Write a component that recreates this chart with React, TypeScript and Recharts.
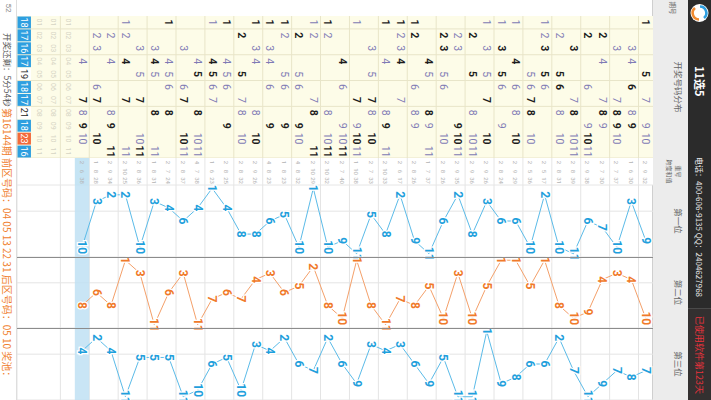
import React from 'react'
import {
  ComposedChart,
  LineChart,
  Line,
  Scatter,
  XAxis,
  YAxis,
  CartesianGrid,
  ReferenceArea,
  LabelList,
} from 'recharts'

// periods 12..51 (rows of the original portrait screen)
const periods = [12, 13, 14, 15, 16, 17, 18, 19, 20, 21, 22, 23, 24, 25, 26, 27, 28, 29, 30, 31, 32, 33, 34, 35, 36, 37, 38, 39, 40, 41, 42, 43, 44, 45, 46, 47, 48, 49, 50, 51]

// drawn numbers per period
const draws = [
  [1, 5, 7, 9, 10], [3, 4, 6, 8, 9], [3, 7, 8, 9, 10], [2, 4, 7, 8, 9], [2, 6, 9, 10, 11],
  [3, 7, 8, 10, 11], [2, 5, 6, 8, 10], [1, 2, 3, 5, 6], [5, 6, 7, 8, 10], [1, 4, 6, 8, 10],
  [1, 3, 5, 6, 9], [1, 3, 5, 7, 10], [2, 5, 8, 10, 11], [2, 3, 9, 10, 11], [2, 3, 5, 6, 10],
  [4, 5, 8, 9, 11], [1, 2, 6, 8, 9], [1, 2, 3, 4, 7], [1, 4, 8, 9, 11], [3, 5, 7, 8, 10],
  [1, 7, 9, 10, 11], [4, 6, 9, 10, 11], [1, 2, 8, 10, 11], [1, 2, 7, 8, 11], [2, 5, 6, 9, 10],
  [1, 2, 5, 6, 9], [1, 3, 4, 6, 9], [1, 3, 4, 8, 10], [2, 5, 7, 8, 10], [1, 4, 5, 6, 9],
  [1, 4, 5, 6, 7], [4, 5, 8, 10, 11], [3, 6, 7, 10, 11], [1, 4, 5, 6, 8], [3, 4, 5, 8, 11],
  [3, 5, 7, 10, 11], [1, 2, 4, 7, 11], [2, 4, 8, 9, 11], [2, 3, 6, 7, 10], [4, 7, 8, 9, 10],
]

// 第一位 / 第二位 / 第三位
const firstPos = [9, 3, 10, 7, 6, 11, 10, 2, 10, 6, 6, 3, 8, 2, 6, 11, 9, 2, 8, 5, 11, 9, 10, 1, 10, 5, 6, 8, 8, 4, 1, 4, 6, 4, 3, 10, 2, 2, 3, 10]
const secondPos = [10, 4, 3, 4, 9, 10, 8, 1, 5, 1, 1, 5, 10, 3, 10, 5, 8, 7, 11, 8, 1, 10, 8, 2, 5, 6, 3, 4, 7, 6, 7, 11, 3, 6, 11, 3, 1, 8, 6, 8]
const thirdPos = [7, 8, 7, 9, 11, 7, 2, 6, 6, 8, 9, 1, 11, 11, 5, 9, 6, 3, 4, 3, 9, 6, 2, 7, 6, 2, 4, 3, 10, 5, 6, 10, 11, 5, 5, 5, 11, 4, 2, 4]

// small stat columns
const repeatCount = [2, 1, 2, 2, 2, 2, 2, 2, 2, 2, 2, 2, 2, 2, 2, 1, 2, 2, 2, 2, 1, 2, 2, 2, 4, 1, 4, 2, 2, 2, 1, 4, 2, 2, 1, 2, 2, 2, 1, 2]
const spanValues = [9, 6, 7, 7, 9, 8, 8, 5, 5, 9, 8, 9, 9, 9, 8, 7, 8, 6, 10, 7, 10, 7, 10, 10, 8, 8, 8, 9, 8, 8, 6, 7, 8, 7, 8, 8, 10, 9, 8, 6]
const sumValues = [32, 30, 37, 30, 38, 39, 31, 17, 36, 29, 24, 26, 36, 35, 26, 37, 26, 17, 33, 33, 38, 40, 32, 29, 32, 23, 23, 26, 32, 25, 23, 38, 37, 24, 31, 36, 25, 34, 28, 38]

const numberLabels = ['01', '02', '03', '04', '05', '06', '07', '08', '09', '10', '11']
const spareRows = [52, 53, 54]
const hitCounts = [18, 17, 16, 17, 19, 18, 17, 21, 18, 23, 16]
const hitMarks = ['b', 'b', 'b', 'b', 'w', 'b', 'b', 'w', 'b', 'r', 'b']

const FONT = 'Roboto, "Noto Sans CJK SC", sans-serif'
const CJK = '"Noto Sans CJK SC", "Noto Sans", sans-serif'

const BODY_H = 636
const ROW_H = BODY_H / 44
const CELL_W = 142 / 11
const ROW_EDGES = Array.from({ length: 45 }, (_, i) => 11.5 + i)
const ROW_TICKS = Array.from({ length: 44 }, (_, i) => 12 + i)
const COL_EDGES = Array.from({ length: 12 }, (_, i) => 0.5 + i)
const COL_TICKS = Array.from({ length: 11 }, (_, i) => 1 + i)
const STAT_EDGES = [0.5, 1.5, 2.5, 3.5]

const lineRows = periods.map((p, i) => ({ p, first: firstPos[i], second: secondPos[i], third: thirdPos[i] }))

const PeriodTick = (props: any) => {
  const { y, payload } = props
  const v = payload.value
  return (
    <g>
      {v === 51 && <rect x={0} y={y - ROW_H / 2} width={16} height={ROW_H} fill="#bfe1f3" />}
      <line x1={0} x2={16} y1={y + ROW_H / 2} y2={y + ROW_H / 2} stroke="#e6e6e6" />
      {v === 55 ? (
        <text x={8} y={y} textAnchor="middle" fontSize={5.5} fill="#777" fontFamily={CJK}>
          <tspan x={8} dy={-1}>出现</tspan>
          <tspan x={8} dy={6}>次数</tspan>
        </text>
      ) : (
        <text x={8} y={y} textAnchor="middle" dominantBaseline="central" fontSize={v > 51 ? 6 : 8} fill="#8a8a8a" fontFamily={v > 51 ? CJK : FONT}>
          {v > 51 ? '预选' : v}
        </text>
      )}
    </g>
  )
}

const NumCell = (props: any) => {
  const { cx, cy, payload } = props
  return (
    <text x={cx} y={cy} textAnchor="middle" dominantBaseline="central" fontSize={10.5}
      fontWeight={payload.last ? 700 : 400} fill={payload.last ? '#1d1d1d' : '#7f7bb5'} fontFamily={FONT}>
      {payload.n}
    </text>
  )
}

const SpareCell = (props: any) => (
  <text x={props.cx} y={props.cy} textAnchor="middle" dominantBaseline="central" fontSize={7} fill="#d6d4c4" fontFamily={FONT}>
    {props.payload.t}
  </text>
)

const CountCell = (props: any) => {
  const { cx, cy, payload } = props
  const bg = payload.mark === 'r' ? '#f26a3c' : payload.mark === 'w' ? '#ffffff' : '#2e9fe0'
  const fg = payload.mark === 'w' ? '#222' : '#fff'
  return (
    <g>
      <rect x={cx - CELL_W / 2 + 0.5} y={cy - ROW_H / 2 + 0.5} width={CELL_W - 1} height={ROW_H - 1} fill={bg} />
      <text x={cx} y={cy} textAnchor="middle" dominantBaseline="central" fontSize={9} fill={fg} fontFamily={FONT}>{payload.c}</text>
    </g>
  )
}

const StatCell = (props: any) => (
  <text x={props.cx} y={props.cy} textAnchor="middle" dominantBaseline="central" fontSize={6} fill="#b4b4b4" fontFamily={FONT}>
    {props.payload.t}
  </text>
)

const BandLabel = (props: any) => {
  const x = props.x ?? props.viewBox?.x
  const y = props.y ?? props.viewBox?.y
  return (
    <text x={x} y={y} textAnchor="middle" dominantBaseline="central" fontSize={12} fontWeight={700}
      fill={props.color} stroke="#ffffff" strokeWidth={2.5} paintOrder="stroke" fontFamily={FONT}>
      {props.value}
    </text>
  )
}

function DrawTable() {
  const cells = periods.flatMap((p, i) =>
    draws[i].map((n) => ({ p, n, last: n !== firstPos[i] && n !== secondPos[i] && n !== thirdPos[i] })))
  const spare = spareRows.flatMap((p) => numberLabels.map((t, j) => ({ p, n: j + 1, t })))
  const counts = hitCounts.map((c, j) => ({ p: 55, n: j + 1, c, mark: hitMarks[j] }))
  return (
    <ComposedChart layout="vertical" width={158} height={650} margin={{ top: 0, right: 0, bottom: 0, left: 0 }}>
      <CartesianGrid xAxisId="g" yAxisId="g" syncWithTicks fill="#fdfce8" fillOpacity={1} stroke="#e8e5c8" />
      <XAxis xAxisId="g" type="number" dataKey="n" domain={[0.5, 11.5]} ticks={COL_EDGES} hide />
      <XAxis xAxisId="lab" type="number" dataKey="n" orientation="top" height={14} domain={[0.5, 11.5]}
        ticks={COL_TICKS} interval={0} tickFormatter={(v) => numberLabels[v - 1]}
        tick={{ fontSize: 7, fill: '#8c8c8c', fontFamily: FONT }} tickLine={false} axisLine={false} tickSize={0} tickMargin={9} />
      <YAxis yAxisId="g" type="number" dataKey="p" domain={[11.5, 55.5]} ticks={ROW_EDGES} hide />
      <YAxis yAxisId="lab" type="number" dataKey="p" width={16} domain={[11.5, 55.5]} ticks={ROW_TICKS}
        interval={0} tick={PeriodTick} tickLine={false} axisLine={false} />
      <Scatter xAxisId="g" yAxisId="g" data={cells} shape={NumCell} isAnimationActive={false} />
      <Scatter xAxisId="g" yAxisId="g" data={spare} shape={SpareCell} isAnimationActive={false} />
      <Scatter xAxisId="g" yAxisId="g" data={counts} shape={CountCell} isAnimationActive={false} />
    </ComposedChart>
  )
}

function StatColumns() {
  const cells = periods.flatMap((p, i) => [
    { p, k: 1, t: repeatCount[i] },
    { p, k: 2, t: spanValues[i] },
    { p, k: 3, t: sumValues[i] },
  ])
  return (
    <ComposedChart layout="vertical" width={27} height={650} margin={{ top: 14, right: 0, bottom: 0, left: 0 }}>
      <CartesianGrid xAxisId="g" yAxisId="g" syncWithTicks fill="#ffffff" fillOpacity={1} stroke="#e6e6e6" />
      <XAxis xAxisId="g" type="number" dataKey="k" domain={[0.5, 3.5]} ticks={STAT_EDGES} hide />
      <YAxis yAxisId="g" type="number" dataKey="p" domain={[11.5, 55.5]} ticks={ROW_EDGES} hide />
      <ReferenceArea xAxisId="g" yAxisId="g" y1={50.5} y2={51.5} fill="#bfe1f3" fillOpacity={0.9} />
      <Scatter xAxisId="g" yAxisId="g" data={cells} shape={StatCell} isAnimationActive={false} />
    </ComposedChart>
  )
}

function PositionBand({ width, dataKey, line, text }: { width: number; dataKey: string; line: string; text: string }) {
  return (
    <LineChart layout="vertical" width={width} height={650} data={lineRows} margin={{ top: 0, right: 0, bottom: 0, left: 0 }}>
      <CartesianGrid xAxisId="g" yAxisId="g" syncWithTicks fill="none" stroke="#e4e4e4" />
      <XAxis xAxisId="g" type="number" domain={[0.5, 11.5]} ticks={COL_EDGES} hide />
      <XAxis xAxisId="lab" type="number" orientation="top" height={14} domain={[0.5, 11.5]} ticks={COL_TICKS}
        interval={0} tickFormatter={(v) => numberLabels[v - 1]} tick={{ fontSize: 4.5, fill: '#a0a0a0', fontFamily: FONT }}
        tickLine={false} axisLine={false} tickSize={0} tickMargin={9} />
      <YAxis yAxisId="g" type="number" dataKey="p" domain={[11.5, 55.5]} ticks={ROW_EDGES} hide />
      <ReferenceArea xAxisId="g" yAxisId="g" y1={50.5} y2={51.5} fill="#bfe1f3" fillOpacity={0.85} />
      <Line xAxisId="g" yAxisId="g" dataKey={dataKey} stroke={line} strokeWidth={1} dot={false} isAnimationActive={false}>
        <LabelList dataKey={dataKey} content={(p: any) => <BandLabel {...p} color={text} />} />
      </Line>
    </LineChart>
  )
}

const abs = (left: number, top: number, width: number, height: number, extra: React.CSSProperties = {}): React.CSSProperties => ({
  position: 'absolute', left, top, width, height, ...extra,
})

function TitleBar() {
  return (
    <div style={abs(0, 0, 400, 23, { background: '#2b2b2b', color: '#fff', fontFamily: CJK })}>
      <svg width={24} height={23} style={{ position: 'absolute', left: 1, top: 0 }}>
        <circle cx={12} cy={11.5} r={9} fill="#ffffff" />
        <path d="M5.5 11 A6.5 6.5 0 0 1 17 7" stroke="#2e9fe0" strokeWidth={2.6} fill="none" />
        <path d="M18.5 12 A6.5 6.5 0 0 1 7 16" stroke="#f08a30" strokeWidth={2.6} fill="none" />
      </svg>
      <div style={{ position: 'absolute', left: 66, top: 3, fontSize: 11, fontWeight: 700 }}>11选5</div>
      <div style={{ position: 'absolute', left: 157, top: 6, fontSize: 8, whiteSpace: 'nowrap', color: '#e6e6e6' }}>
        电话：400-606-9135 QQ：2404627968
      </div>
      <div style={abs(308, 0, 92, 23, { background: '#333030', borderLeft: '1px solid #4a4a4a' })}>
        <div style={{ position: 'absolute', left: 7, top: 5, fontSize: 9, color: '#e8323c', whiteSpace: 'nowrap' }}>
          已使用软件第123天
        </div>
      </div>
    </div>
  )
}

function HeaderRow() {
  const bands = [
    { left: 185, width: 72, name: '第一位' },
    { left: 257, width: 71, name: '第二位' },
    { left: 328, width: 72, name: '第三位' },
  ]
  return (
    <div style={abs(0, 23, 400, 35, { background: '#ececec', borderBottom: '1px solid #cfcfcf', fontFamily: CJK, color: '#666' })}>
      <div style={{ position: 'absolute', left: 0, width: 16, top: 10, fontSize: 6.5, textAlign: 'center' }}>期号</div>
      <div style={{ position: 'absolute', left: 16, width: 142, top: 3, fontSize: 8.5, textAlign: 'center' }}>开奖号码分布</div>
      <div style={{ position: 'absolute', left: 158, width: 27, top: 5, fontSize: 6, textAlign: 'center', lineHeight: '9px' }}>
        重号<br />跨度和值
      </div>
      {bands.map((b) => (
        <div key={b.name} style={{ position: 'absolute', left: b.left, width: b.width, top: 3, fontSize: 8.5, textAlign: 'center' }}>
          {b.name}
        </div>
      ))}
    </div>
  )
}

function Footer() {
  return (
    <div style={abs(0, 694, 400, 17, { background: '#ffffff', borderTop: '1px solid #dedede', fontFamily: CJK, whiteSpace: 'nowrap', overflow: 'hidden' })}>
      <div style={{ position: 'absolute', left: 0, width: 16, top: 3, fontSize: 8, color: '#8a8a8a', textAlign: 'center', fontFamily: FONT }}>52</div>
      <div style={{ position: 'absolute', left: 33, top: 2, fontSize: 8.5, color: '#555' }}>开奖还剩：5分54秒</div>
      <div style={{ position: 'absolute', left: 108, top: 1, fontSize: 10, color: '#f0802e' }}>
        第16144期 前区号码：04 05 13 22 31 后区号码：05 10 奖池：
      </div>
    </div>
  )
}

export default function App() {
  return (
    <div style={{ position: 'fixed', left: 0, top: 0, width: 711, height: 400, overflow: 'hidden', background: '#fff' }}>
      <style>{'.recharts-surface{overflow:visible}'}</style>
      <div style={{ position: 'absolute', left: 0, top: 0, width: 400, height: 711, transformOrigin: '0 0', transform: 'translate(711px, 0) rotate(90deg)', background: '#fff' }}>
        <HeaderRow />
        <div style={abs(0, 44, 158, 650)}><DrawTable /></div>
        <div style={abs(158, 44, 27, 650)}><StatColumns /></div>
        <div style={abs(185, 44, 72, 650)}><PositionBand width={72} dataKey="first" line="#5bbbe8" text="#1fa0dc" /></div>
        <div style={abs(257, 44, 71, 650)}><PositionBand width={71} dataKey="second" line="#f4a06a" text="#f07a2a" /></div>
        <div style={abs(328, 44, 72, 650)}><PositionBand width={72} dataKey="third" line="#5bbbe8" text="#1fa0dc" /></div>
        <div style={abs(256.5, 58, 1, 636, { background: '#8c8c8c' })} />
        <div style={abs(327.5, 58, 1, 636, { background: '#8c8c8c' })} />
        <TitleBar />
        <Footer />
      </div>
    </div>
  )
}
